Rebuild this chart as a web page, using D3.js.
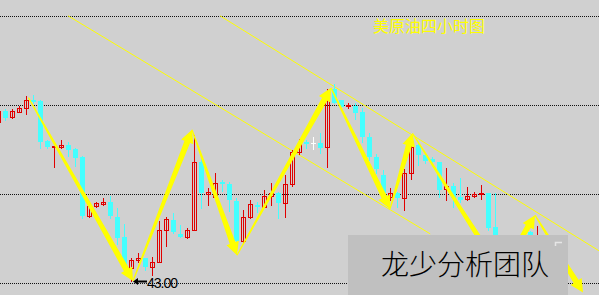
<!DOCTYPE html>
<html lang="zh">
<head>
<meta charset="UTF-8">
<title>美原油四小时图</title>
<script src="https://cdn.jsdelivr.net/npm/d3@7"></script>
<style>
  html, body { margin: 0; padding: 0; background: #d0d0d0; }
  svg { display: block; }
</style>
</head>
<body>
<div id="chart"></div>
<script>
// 4h candles, one per bar index
const opens = [44.79,44.91,44.84,44.90,44.94,45.03,45.02,44.57,44.51,44.51,
  44.53,44.48,44.39,43.73,43.84,43.87,43.89,43.72,43.49,43.15,
  43.24,43.26,43.16,43.21,43.57,43.69,43.53,43.49,43.57,44.34,
  43.98,43.94,44.11,44.09,43.90,43.45,43.72,43.85,43.83,43.96,
  43.99,43.88,44.09,44.45,44.56,44.55,44.55,44.51,45.16,45.03,
  44.97,44.97,44.90,44.62,44.39,44.19,43.94,43.99,43.93,44.21,
  44.53,44.42,44.37,44.34,44.03,44.07,43.94,43.92,43.96,43.98,
  43.99,43.61,43.40,43.21,43.33,43.26,43.55,43.29,43.46,43.26];
const highs = [44.93,44.93,44.93,44.97,45.08,45.09,45.03,44.58,44.52,44.58,
  44.56,44.49,44.40,43.85,43.89,43.93,43.96,43.82,43.64,43.26,
  43.31,43.26,43.27,43.67,43.72,43.76,43.63,43.60,44.64,44.38,
  44.04,44.21,44.13,44.11,43.93,43.80,43.91,43.89,44.02,44.10,
  44.00,44.19,44.47,44.60,44.58,44.62,44.66,45.16,45.21,45.03,
  45.00,45.00,44.94,44.66,44.43,44.25,44.04,44.00,44.26,44.64,
  44.56,44.44,44.39,44.34,44.27,44.10,44.16,44.06,44.00,44.08,
  43.99,43.99,43.48,43.37,43.40,43.46,43.56,43.62,43.49,43.35];
const lows = [44.76,44.81,44.83,44.90,44.88,45.00,44.49,44.50,44.28,44.50,
  44.40,44.29,43.71,43.72,43.83,43.85,43.71,43.42,43.10,43.00,
  43.21,43.12,43.07,43.21,43.39,43.54,43.49,43.48,43.57,43.82,
  43.85,43.94,44.01,43.79,43.44,43.44,43.71,43.78,43.83,43.85,
  43.71,43.72,44.07,44.43,44.49,44.48,44.44,44.28,45.00,44.96,
  44.94,44.82,44.56,44.36,44.21,43.93,43.91,43.83,43.80,44.15,
  44.30,44.33,44.31,43.94,43.91,43.83,43.89,43.91,43.94,43.92,
  43.57,43.35,43.21,43.15,43.21,43.21,43.24,43.24,43.21,43.07];
const closes = [44.91,44.83,44.91,44.94,45.03,45.01,44.56,44.51,44.52,44.53,
  44.47,44.38,43.73,43.84,43.88,43.89,43.73,43.48,43.15,43.24,
  43.26,43.16,43.21,43.57,43.70,43.55,43.49,43.57,44.34,43.99,
  44.00,44.10,44.09,43.91,43.45,43.72,43.87,43.83,43.96,43.99,
  43.88,44.09,44.45,44.54,44.54,44.55,44.49,45.11,45.00,44.96,
  44.98,44.89,44.62,44.39,44.26,43.99,43.99,43.93,44.21,44.51,
  44.42,44.35,44.34,44.02,44.07,43.93,43.91,43.96,43.98,43.99,
  43.60,43.40,43.26,43.33,43.26,43.42,43.35,43.46,43.26,43.12];

const gridPrices = [42.98, 43.98, 44.98, 45.98];

// zigzag swing points: bar index / price
const swingIdx   = [4.3, 19.24, 27.67, 34.1, 47.53, 55.96, 59.17, 71.81, 76.67, 83.53];
const swingPrice = [45.06, 43.00, 44.70, 43.29, 45.17, 43.81, 44.66, 43.10, 43.74, 42.87];

// channel trend lines [index, price]
const upperLine = [[31.67, 45.98], [85.8, 43.34]];
const lowerLine = [[9.96, 45.98], [61.7, 43.53]];

const lowLabel = "43.00";
const title = "美原油四小时图";
const watermark = "龙少分析团队";

const width = 599, height = 295;
const bg = "#d0d0d0", red = "#e00000", cyan = "#44ffff", yellow = "#ffff00";

const x = d3.scaleLinear().domain([0, 85]).range([-1.7, 593.3]);
const y = d3.scaleLinear().domain([43, 45]).range([281, 103]);

const svg = d3.select("#chart").append("svg")
    .attr("width", width).attr("height", height);

svg.append("rect").attr("width", width).attr("height", height).attr("fill", bg);

// dotted grid
svg.selectAll(".grid").data(gridPrices).enter().append("line")
    .attr("x1", 0).attr("x2", width)
    .attr("y1", d => Math.round(y(d)) + 0.5).attr("y2", d => Math.round(y(d)) + 0.5)
    .attr("stroke", "#111").attr("stroke-dasharray", "1,1");

svg.append("text").attr("x", 373).attr("y", 32)
    .attr("font-family", "'Noto Sans CJK SC', sans-serif").attr("font-size", 16)
    .attr("fill", yellow).text(title);

// channel
[upperLine, lowerLine].forEach(l => {
    svg.append("line")
        .attr("x1", x(l[0][0])).attr("y1", y(l[0][1]))
        .attr("x2", x(l[1][0])).attr("y2", y(l[1][1]))
        .attr("stroke", yellow).attr("stroke-width", 1);
});

// candles
const bars = d3.range(opens.length).map(i => ({
    i: i, o: opens[i], h: highs[i], l: lows[i], c: closes[i]
}));
const colorOf = d => d.c > d.o ? red : (d.c < d.o ? cyan : "#ffffff");
const cx = d => Math.round(x(d.i));

const g = svg.append("g");
g.selectAll(".wick").data(bars).enter().append("line")
    .attr("x1", d => cx(d) + 0.5).attr("x2", d => cx(d) + 0.5)
    .attr("y1", d => Math.round(y(d.h))).attr("y2", d => Math.round(y(d.l)) + 1)
    .attr("stroke", colorOf);

g.selectAll(".body").data(bars).enter().append("rect")
    .attr("x", d => d.c > d.o ? cx(d) - 1.5 : cx(d) - 2)
    .attr("y", d => {
        const t = Math.round(y(Math.max(d.o, d.c)));
        return d.c > d.o ? t + 0.5 : t;
    })
    .attr("width", d => d.c > d.o ? 4 : 5)
    .attr("height", d => {
        const hh = Math.round(y(Math.min(d.o, d.c))) - Math.round(y(Math.max(d.o, d.c)));
        return d.c > d.o ? Math.max(hh, 1) : Math.max(hh, 1);
    })
    .attr("fill", d => d.c > d.o ? "none" : colorOf(d))
    .attr("stroke", d => d.c > d.o ? red : "none");

// tapered zigzag arrows
function arrowPath(p0, p1) {
    const dx = p1[0] - p0[0], dy = p1[1] - p0[1], L = Math.hypot(dx, dy);
    const ux = dx / L, uy = dy / L, nx = -uy, ny = ux;
    const s = [p1[0] - ux * 13, p1[1] - uy * 13];
    const pt = (p, k) => [p[0] + nx * k, p[1] + ny * k];
    return d3.line()([pt(p0, 0.6), pt(s, 3), pt(s, 6.5), p1, pt(s, -6.5), pt(s, -3), pt(p0, -0.6)]) + "Z";
}
const swings = swingIdx.map((d, i) => [x(d), y(swingPrice[i])]);
for (let k = 0; k < swings.length - 1; k++) {
    svg.append("path").attr("d", arrowPath(swings[k], swings[k + 1]))
        .attr("fill", yellow);
}

// low marker
const lowPt = [x(swingIdx[1]), y(swingPrice[1])];
svg.append("line").attr("x1", lowPt[0] + 2).attr("x2", lowPt[0] + 14)
    .attr("y1", lowPt[1] + 0.5).attr("y2", lowPt[1] + 0.5)
    .attr("stroke", "#000").attr("stroke-width", 2);
svg.append("path")
    .attr("d", `M${lowPt[0]},${lowPt[1] + 0.5}L${lowPt[0] + 5},${lowPt[1] - 3}L${lowPt[0] + 5},${lowPt[1] + 4}Z`)
    .attr("fill", "#000");
svg.append("text").attr("x", lowPt[0] + 14).attr("y", lowPt[1] + 7)
    .attr("font-family", "'Liberation Sans', Arial, sans-serif").attr("font-size", 14)
    .attr("textLength", 31).attr("fill", "#000").text(lowLabel);

// watermark box
svg.append("rect").attr("x", 348).attr("y", 235).attr("width", 220).attr("height", 60)
    .attr("fill", "#c0c0c0");
svg.append("path").attr("d", "M555.5,246V242.5H562").attr("fill", "none")
    .attr("stroke", "#e6e6e6").attr("stroke-width", 1.5);
svg.append("text").attr("x", 381).attr("y", 275)
    .attr("font-family", "'Noto Sans CJK SC', sans-serif").attr("font-size", 28)
    .attr("font-weight", 300).attr("fill", "#000").text(watermark);
</script>
</body>
</html>
